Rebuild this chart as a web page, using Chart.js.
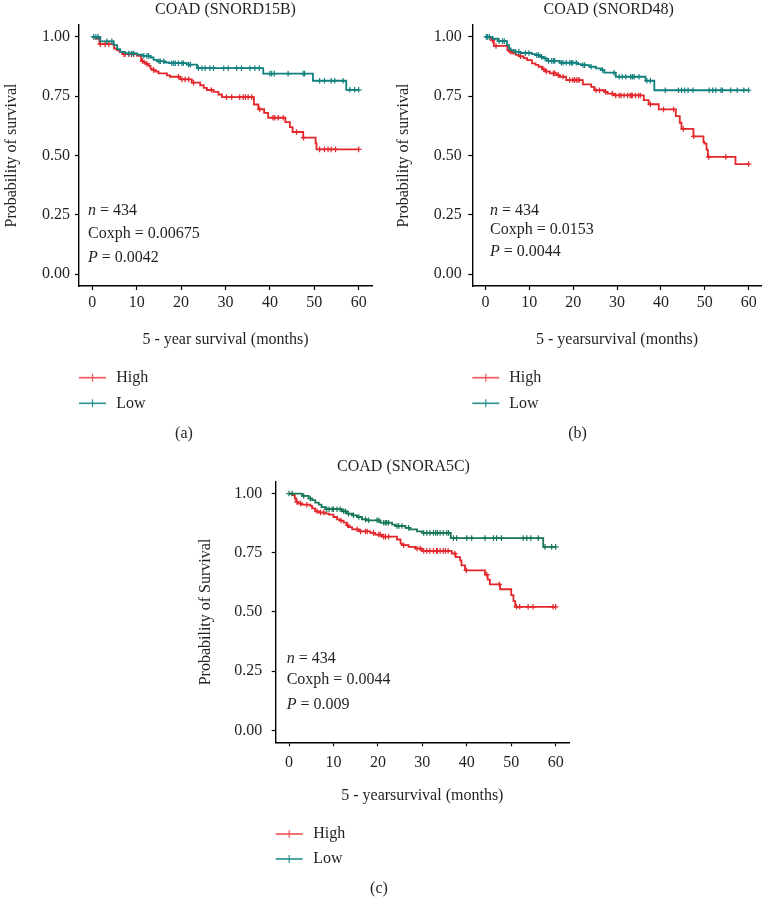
<!DOCTYPE html>
<html><head><meta charset="utf-8">
<script src="https://cdn.jsdelivr.net/npm/chart.js@4"></script>
<style>
html,body{margin:0;padding:0;background:#fff;}
body{width:767px;height:897px;position:relative;overflow:hidden;}
canvas{position:absolute;}
</style></head><body>
<canvas id="ca"></canvas><canvas id="cb"></canvas><canvas id="cc"></canvas>
<script>
// ---------- shared tick labels ----------
const xTickValues = [0, 10, 20, 30, 40, 50, 60];
const yTickValues = [0, 0.25, 0.5, 0.75, 1];
const seriesNames = ['High', 'Low'];

// ---------- panel (a) COAD (SNORD15B) ----------
const aHighTime = [0.7,1.6,4.9,5.5,6.1,6.8,10.1,11.0,11.6,12.0,12.7,13.1,13.4,14.2,14.9,16.8,17.5,19.8,22.4,24.3,25.1,25.8,27.3,28.4,29.2,36.4,37.4,38.7,39.6,43.5,44.5,45.1,47.5,50.3,50.5];
const aHighSurv = [0.993,0.969,0.951,0.944,0.937,0.927,0.920,0.898,0.892,0.886,0.878,0.866,0.861,0.854,0.846,0.838,0.832,0.821,0.807,0.796,0.785,0.776,0.768,0.757,0.746,0.715,0.695,0.680,0.659,0.641,0.620,0.599,0.575,0.551,0.526];
const aHighCensor = [1.8,2.9,3.7,7.1,7.4,8.2,8.8,9.3,11.3,12.3,13.8,19.4,20.2,20.9,21.7,22.8,26.8,30.2,31.4,33.2,34.0,34.5,35.1,35.9,37.7,40.7,41.1,41.9,43.0,46.0,47.6,51.2,52.3,53.1,53.8,54.8,60.0];
const aLowTime = [1.8,4.8,5.6,6.3,7.4,10.1,11.2,13.1,13.8,14.6,16.4,17.3,21.3,23.6,38.5,49.7,57.2];
const aLowSurv = [0.981,0.965,0.948,0.937,0.930,0.925,0.920,0.913,0.903,0.897,0.892,0.889,0.883,0.868,0.845,0.815,0.777];
const aLowCensor = [0.3,0.8,1.3,3.3,4.4,8.2,8.9,9.3,11.6,12.3,12.7,15.0,15.3,16.1,17.9,18.3,18.7,19.4,20.2,20.5,21.7,22.1,23.9,24.7,25.4,26.5,27.3,29.6,30.6,32.5,33.6,35.5,36.6,37.6,40.0,40.4,41.0,44.1,47.5,47.8,51.2,52.3,53.8,54.6,56.5,58.0,59.1,60.0];

// ---------- panel (b) COAD (SNORD48) ----------
const bHighTime = [1.3,1.9,5.0,5.4,6.1,6.9,7.6,8.7,9.5,10.6,11.4,12.1,12.9,13.6,14.7,16.2,16.9,18.4,22.2,24.1,24.8,27.1,27.8,29.2,36.1,37.2,39.5,43.4,44.3,44.7,47.4,49.7,49.9,50.4,50.7,57.0];
const bHighSurv = [0.986,0.962,0.944,0.938,0.930,0.924,0.918,0.910,0.902,0.888,0.882,0.874,0.863,0.854,0.846,0.839,0.832,0.818,0.800,0.789,0.775,0.768,0.761,0.753,0.733,0.716,0.694,0.666,0.638,0.612,0.581,0.557,0.550,0.525,0.494,0.464];
const bHighCensor = [1.6,2.4,5.7,8.0,13.3,13.9,15.5,15.8,16.6,17.7,19.2,19.9,20.3,20.7,21.1,21.4,25.2,26.0,27.4,28.9,29.7,30.5,30.9,31.6,32.4,33.0,33.3,33.5,34.2,34.9,35.3,37.6,40.6,42.9,45.1,47.5,50.9,54.8,60.0];
const bLowTime = [1.6,2.9,4.9,5.4,5.75,6.5,8.0,10.6,11.4,12.5,13.2,14.0,16.9,21.1,21.8,23.7,25.2,26.3,27.1,29.7,36.5,38.5];
const bLowSurv = [0.992,0.982,0.965,0.951,0.944,0.937,0.932,0.927,0.923,0.916,0.909,0.899,0.891,0.885,0.881,0.874,0.867,0.860,0.849,0.832,0.815,0.775];
const bLowCensor = [0.2,0.5,0.9,3.1,3.9,4.3,6.9,7.6,9.1,9.9,11.7,12.1,12.8,13.6,14.4,15.1,15.5,15.8,17.3,17.7,18.4,19.2,19.6,19.9,20.7,22.2,22.6,24.1,26.7,29.3,30.5,31.2,32.0,33.1,33.5,33.9,35.0,36.8,37.6,41.0,44.0,44.7,45.4,46.2,47.3,51.0,51.8,52.5,53.7,54.0,55.9,57.4,58.9,60.0];

// ---------- panel (c) COAD (SNORA5C) ----------
const cHighTime = [0.7,1.3,1.6,2.0,2.9,4.8,5.2,5.9,6.7,8.2,9.0,10.0,10.8,11.5,12.3,13.0,13.4,14.2,15.7,18.3,19.4,20.9,24.3,25.1,25.4,26.9,28.4,29.9,36.6,37.5,38.5,38.8,39.6,44.1,44.7,45.2,47.5,50.0,50.5,50.9];
const cHighSurv = [0.993,0.979,0.965,0.958,0.953,0.948,0.937,0.925,0.920,0.915,0.911,0.901,0.891,0.886,0.877,0.866,0.858,0.849,0.840,0.834,0.827,0.818,0.806,0.789,0.782,0.775,0.768,0.758,0.747,0.732,0.718,0.697,0.676,0.658,0.637,0.617,0.596,0.571,0.546,0.522];
const cHighCensor = [1.8,2.6,4.0,6.3,7.1,7.8,11.7,13.2,15.3,16.1,17.2,17.6,19.0,20.2,20.5,21.3,21.7,22.4,25.8,28.8,29.5,30.3,31.0,31.7,32.5,33.2,33.4,34.0,34.7,35.2,35.8,37.3,39.9,44.5,47.3,51.2,51.9,53.8,54.9,59.4,60.0];
const cLowTime = [2.9,4.4,5.2,5.9,6.7,7.3,8.2,11.9,13.0,14.2,15.3,16.4,17.5,20.5,23.2,23.9,26.2,27.3,28.8,29.9,36.4,57.2];
const cLowSurv = [0.990,0.979,0.972,0.962,0.953,0.943,0.934,0.925,0.915,0.908,0.901,0.891,0.887,0.877,0.869,0.863,0.855,0.849,0.840,0.834,0.812,0.775];
const cLowCensor = [0.0,0.7,3.3,4.8,8.5,9.0,9.7,10.0,10.8,11.5,12.3,12.7,13.4,14.5,15.7,17.2,17.9,19.8,20.2,21.3,21.7,22.0,22.4,24.3,24.7,25.4,26.9,30.3,31.0,31.7,32.5,33.0,33.4,34.0,34.7,35.5,35.9,37.0,37.7,40.0,41.1,44.1,46.0,46.7,47.8,52.7,53.5,54.4,56.1,57.6,59.1,60.0];

const followUpEnd = 60;

// ---------- helpers ----------
const FONT = "'Liberation Serif', 'Times New Roman', serif";
const TXT = '#231f20';
function stepPoints(times, surv, end) {
  const pts = [{x: 0, y: 1}];
  times.forEach((t, i) => pts.push({x: t, y: surv[i]}));
  pts.push({x: end, y: surv[surv.length - 1]});
  return pts;
}
function censorPoints(times, surv, cens) {
  return cens.map(c => {
    let s = 1;
    for (let i = 0; i < times.length; i++) if (times[i] <= c) s = surv[i];
    return {x: c, y: s};
  });
}

function makePanel(id, P) {
  const cv = document.getElementById(id);
  cv.width = P.rect.w; cv.height = P.rect.h;
  cv.style.left = P.rect.x + 'px'; cv.style.top = P.rect.y + 'px';
  const lh = 16 * 1.2;
  const area = P.area;
  const overlay = {
    id: 'overlay_' + id,
    afterDraw(chart) {
      const ctx = chart.ctx;
      ctx.save();
      ctx.translate(-P.rect.x, -P.rect.y);
      ctx.fillStyle = TXT;
      ctx.textBaseline = 'alphabetic';
      ctx.font = '16px ' + FONT;
      ctx.textAlign = 'center';
      ctx.fillText(P.title, P.titlePos[0], P.titlePos[1]);
      ctx.textAlign = 'left';
      P.stats.forEach((line, i) => {
        let x = P.statsX;
        line.forEach(part => {
          ctx.font = (part.it ? 'italic ' : '') + '16px ' + FONT;
          ctx.fillText(part.t, x, P.statsY[i]);
          x += ctx.measureText(part.t).width;
        });
      });
      const L = P.legend;
      seriesNames.forEach((name, i) => {
        const y = L.lineY[i];
        ctx.strokeStyle = P.legendColors[i];
        ctx.lineWidth = 1.7;
        ctx.beginPath(); ctx.moveTo(L.x1, y); ctx.lineTo(L.x2, y); ctx.stroke();
        const mx = (L.x1 + L.x2) / 2;
        ctx.lineWidth = 1.2;
        ctx.beginPath(); ctx.moveTo(mx, y - 4); ctx.lineTo(mx, y + 4); ctx.stroke();
        ctx.font = '16px ' + FONT;
        ctx.fillStyle = TXT;
        ctx.fillText(name, L.textX, L.textY[i]);
      });
      ctx.textAlign = 'center';
      ctx.font = '16px ' + FONT;
      ctx.fillText(P.caption, P.captionPos[0], P.captionPos[1]);
      ctx.restore();
    }
  };
  const yW = area.l - P.rect.x;
  const padR = P.rect.x + P.rect.w - area.r;
  const padT = area.t - P.rect.y;
  const xH = 70;
  const padB = P.rect.y + P.rect.h - area.b - xH;
  new Chart(cv, {
    type: 'scatter',
    data: {
      datasets: [
        {label: 'High', data: stepPoints(P.high.t, P.high.s, followUpEnd), showLine: true, stepped: 'before',
         borderColor: P.colors[0], borderWidth: 1.8, pointRadius: 0, fill: false, order: 4},
        {label: 'High censored', data: censorPoints(P.high.t, P.high.s, P.high.c), showLine: false,
         pointStyle: 'cross', pointRadius: 2.8, pointBorderWidth: 1.2, borderColor: P.colors[0], backgroundColor: P.colors[0], order: 3},
        {label: 'Low', data: stepPoints(P.low.t, P.low.s, followUpEnd), showLine: true, stepped: 'before',
         borderColor: P.colors[1], borderWidth: 1.8, pointRadius: 0, fill: false, order: 2},
        {label: 'Low censored', data: censorPoints(P.low.t, P.low.s, P.low.c), showLine: false,
         pointStyle: 'cross', pointRadius: 2.8, pointBorderWidth: 1.2, borderColor: P.colors[1], backgroundColor: P.colors[1], order: 1}
      ]
    },
    options: {
      responsive: false, animation: false, devicePixelRatio: 1, events: [],
      layout: {padding: {left: 0, right: padR, top: padT, bottom: padB}},
      plugins: {legend: {display: false}, tooltip: {enabled: false}, title: {display: false}},
      scales: {
        x: {
          type: 'linear', min: -3, max: 63,
          afterBuildTicks: s => { s.ticks = xTickValues.map(v => ({value: v})); },
          afterFit: s => { s.height = xH; },
          ticks: {font: {family: FONT, size: 16}, color: TXT, padding: P.xTickPad, maxRotation: 0, autoSkip: false},
          grid: {display: true, drawOnChartArea: false, drawTicks: true, tickLength: 4, tickColor: '#000', tickWidth: 1.2, color: '#000'},
          border: {display: true, color: '#000', width: 1.4},
          title: {display: true, text: P.xTitle, font: {family: FONT, size: 16}, color: TXT, padding: {top: 0, bottom: P.xTitlePadB}}
        },
        y: {
          type: 'linear', min: -0.05, max: 1.05,
          afterBuildTicks: s => { s.ticks = yTickValues.map(v => ({value: v})); },
          afterFit: s => { s.width = yW; },
          ticks: {font: {family: FONT, size: 16}, color: TXT, padding: P.yTickPad, callback: v => Number(v).toFixed(2)},
          grid: {display: true, drawOnChartArea: false, drawTicks: true, tickLength: 4, tickColor: '#000', tickWidth: 1.2, color: '#000'},
          border: {display: true, color: '#000', width: 1.4},
          title: {display: true, text: P.yTitle, font: {family: FONT, size: 16}, color: TXT, padding: {top: P.yTitleX - P.rect.x - lh / 2, bottom: 0}}
        }
      }
    },
    plugins: [overlay]
  });
}

const redLine = '#e3262b', tealLine = '#13807e', greenLine = '#17775b';
const redLeg = '#ee5b5b', tealLeg = '#2f9393';

makePanel('ca', {
  rect: {x: 0, y: 0, w: 380, h: 445},
  area: {l: 79, r: 372, t: 25, b: 286},
  high: {t: aHighTime, s: aHighSurv, c: aHighCensor},
  low: {t: aLowTime, s: aLowSurv, c: aLowCensor},
  colors: [redLine, tealLine], legendColors: [redLeg, tealLeg],
  title: 'COAD (SNORD15B)', titlePos: [225.5, 14],
  yTitle: 'Probability of survival', yTitleX: 12,
  xTitle: '5 - year survival (months)', xTitlePadB: 6.8, xTickPad: 3.3, yTickPad: 5,
  stats: [[{t: 'n', it: true}, {t: ' = 434'}], [{t: 'Coxph = 0.00675'}], [{t: 'P', it: true}, {t: ' = 0.0042'}]],
  statsX: 88, statsY: [215, 237.5, 261.7],
  legend: {x1: 79, x2: 106, textX: 116.3, lineY: [377.7, 403.3], textY: [381.7, 407.7]},
  caption: '(a)', captionPos: [184, 437.5]
});

makePanel('cb', {
  rect: {x: 380, y: 0, w: 387, h: 445},
  area: {l: 472.3, r: 765.7, t: 25, b: 286},
  high: {t: bHighTime, s: bHighSurv, c: bHighCensor},
  low: {t: bLowTime, s: bLowSurv, c: bLowCensor},
  colors: [redLine, tealLine], legendColors: [redLeg, tealLeg],
  title: 'COAD (SNORD48)', titlePos: [608.7, 13.5],
  yTitle: 'Probability of survival', yTitleX: 403.9,
  xTitle: '5 - yearsurvival (months)', xTitlePadB: 6.8, xTickPad: 3.3, yTickPad: 6.6,
  stats: [[{t: 'n', it: true}, {t: ' = 434'}], [{t: 'Coxph = 0.0153'}], [{t: 'P', it: true}, {t: ' = 0.0044'}]],
  statsX: 490, statsY: [215, 234.3, 256],
  legend: {x1: 472.3, x2: 499.3, textX: 509.3, lineY: [377.7, 403.3], textY: [381.7, 407.7]},
  caption: '(b)', captionPos: [577.5, 437.5]
});

makePanel('cc', {
  rect: {x: 190, y: 445, w: 400, h: 452},
  area: {l: 275.7, r: 569, t: 481.7, b: 742.3},
  high: {t: cHighTime, s: cHighSurv, c: cHighCensor},
  low: {t: cLowTime, s: cLowSurv, c: cLowCensor},
  colors: [redLine, greenLine], legendColors: [redLeg, tealLeg],
  title: 'COAD (SNORA5C)', titlePos: [403.5, 470.7],
  yTitle: 'Probability of Survival', yTitleX: 205.3,
  xTitle: '5 - yearsurvival (months)', xTitlePadB: 7.4, xTickPad: 7, yTickPad: 9.4,
  stats: [[{t: 'n', it: true}, {t: ' = 434'}], [{t: 'Coxph = 0.0044'}], [{t: 'P', it: true}, {t: ' = 0.009'}]],
  statsX: 286.7, statsY: [662.7, 684.3, 709.3],
  legend: {x1: 275.7, x2: 302.7, textX: 313.3, lineY: [834, 859], textY: [838.3, 863.3]},
  caption: '(c)', captionPos: [379, 893]
});
</script></body></html>
